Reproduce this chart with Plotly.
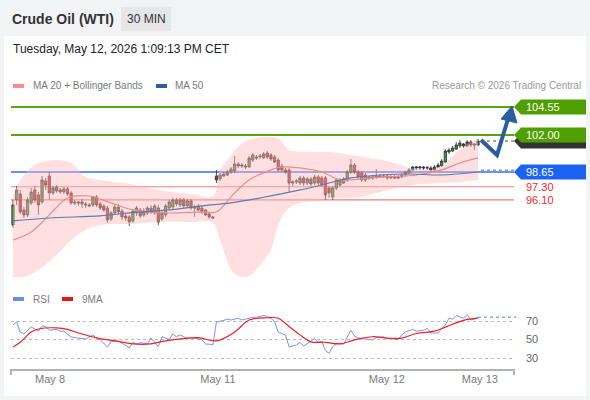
import plotly.graph_objects as go

W, H = 590, 400

# ---------------- data (30-min bars, weekend compressed) ----------------
opens = [93.83, 96.10, 96.65, 95.19, 94.74, 95.83, 97.01, 96.55, 95.92, 97.83,
         98.28, 96.74, 97.28, 97.01, 96.83, 97.10, 96.74, 95.92, 95.92, 95.92,
         95.74, 95.65, 95.65, 96.37, 95.74, 95.56, 95.37, 94.37, 94.92, 95.46,
         95.10, 94.65, 94.56, 94.19, 94.92, 95.19, 94.74, 94.92, 95.37, 94.92,
         95.37, 94.37, 94.74, 95.37, 95.46, 96.10, 95.65, 96.10, 95.56, 96.01,
         95.46, 95.56, 95.37, 95.19, 94.83, 94.56,
         98.28, 98.01, 98.28, 98.37, 98.64, 98.74, 99.37, 99.28, 99.19, 99.10,
         99.73, 100.01, 100.01, 99.92, 100.37, 100.19, 100.01, 99.73, 99.19, 98.83,
         98.83, 97.64, 97.74, 97.64, 98.10, 97.64, 98.01, 97.64, 98.19, 98.10,
         98.10, 97.19, 96.37, 97.19, 97.46, 97.64, 97.92, 98.64, 99.28, 98.64,
         98.55, 98.37, 98.10, 98.10, 98.19, 98.28, 98.19, 98.28, 98.10, 98.19,
         98.19, 98.19, 98.37, 98.55, 98.83, 99.01, 99.01, 99.10, 99.01, 99.01,
         98.83, 99.10, 99.19, 99.55, 100.46, 100.55, 100.73, 101.01, 101.19, 101.01,
         101.37, 101.19, 101.10]
highs = [96.10, 97.37, 97.01, 95.46, 96.37, 97.19, 97.37, 96.83, 98.28, 98.10,
         98.64, 97.37, 97.46, 97.19, 97.28, 97.28, 96.92, 96.10, 96.01, 96.19,
         95.92, 95.83, 96.46, 96.55, 95.92, 95.74, 95.56, 95.10, 95.65, 95.74,
         95.28, 94.83, 94.74, 95.28, 95.56, 95.37, 95.37, 95.56, 95.65, 95.74,
         95.65, 95.10, 95.74, 96.10, 96.28, 96.28, 96.28, 96.28, 96.19, 96.19,
         95.65, 95.74, 95.56, 95.28, 95.01, 94.65,
         98.83, 98.55, 98.64, 98.83, 99.10, 100.10, 99.55, 99.46, 99.37, 100.10,
         100.37, 100.19, 100.28, 100.46, 100.55, 100.37, 100.19, 99.92, 99.37, 99.01,
         99.01, 97.92, 98.01, 98.28, 98.28, 98.19, 98.19, 98.37, 98.37, 98.28,
         98.28, 97.37, 97.37, 98.10, 98.10, 98.19, 98.83, 99.83, 99.46, 98.83,
         98.74, 98.55, 98.28, 98.37, 98.92, 98.46, 98.46, 98.46, 98.37, 98.37,
         98.37, 98.55, 98.74, 99.01, 99.19, 99.19, 99.19, 99.19, 99.19, 99.19,
         99.28, 99.46, 99.83, 100.73, 100.82, 101.01, 101.37, 101.55, 101.28, 101.55,
         101.55, 101.28, 101.64]
lows = [93.56, 95.65, 94.83, 94.46, 94.56, 95.65, 95.83, 94.74, 95.74, 97.01,
        96.10, 96.55, 96.74, 96.65, 96.65, 96.46, 95.65, 95.65, 95.56, 95.37,
        95.37, 95.46, 95.46, 95.46, 95.19, 95.01, 94.01, 94.19, 94.74, 94.83,
        94.28, 94.19, 93.74, 94.01, 94.65, 94.46, 94.56, 94.74, 94.83, 94.74,
        93.83, 94.19, 94.56, 95.19, 95.28, 95.56, 95.46, 95.37, 95.37, 95.19,
        94.56, 95.01, 94.83, 94.65, 94.37, 94.37,
        97.64, 97.83, 98.19, 98.28, 98.46, 98.55, 99.01, 99.01, 98.92, 99.01,
        99.55, 99.73, 99.83, 99.83, 99.83, 99.64, 99.46, 98.64, 98.64, 98.46,
        96.83, 97.37, 97.55, 97.46, 97.37, 97.46, 97.37, 97.46, 97.46, 97.28,
        96.10, 96.28, 96.10, 97.01, 97.28, 97.55, 97.74, 98.46, 98.46, 98.01,
        97.74, 97.74, 97.92, 97.92, 98.01, 98.10, 98.10, 97.92, 98.01, 98.01,
        98.01, 98.10, 98.19, 98.46, 98.74, 98.83, 98.83, 98.83, 98.83, 98.64,
        98.74, 99.01, 99.10, 99.46, 100.28, 100.46, 100.64, 100.82, 100.82, 100.92,
        100.92, 100.64, 101.01]
closes = [95.65, 97.01, 95.01, 94.74, 96.10, 96.83, 96.10, 95.65, 97.92, 97.46,
          96.74, 97.19, 96.92, 96.83, 97.10, 96.65, 95.83, 95.83, 95.83, 95.74,
          95.65, 95.56, 96.37, 95.65, 95.37, 95.19, 94.28, 94.92, 95.46, 95.01,
          94.56, 94.46, 94.10, 95.10, 95.37, 94.65, 95.10, 95.37, 95.01, 95.56,
          94.10, 94.92, 95.56, 95.92, 96.10, 95.74, 96.10, 95.56, 96.01, 95.37,
          95.37, 95.19, 95.01, 94.74, 94.56, 94.46,
          97.92, 98.37, 98.46, 98.64, 98.92, 99.37, 99.19, 99.19, 99.10, 99.92,
          100.19, 99.92, 100.10, 100.28, 100.01, 99.83, 99.55, 98.83, 98.83, 98.64,
          97.64, 97.74, 97.83, 98.10, 97.64, 98.01, 97.55, 98.19, 97.64, 97.46,
          96.55, 96.74, 97.19, 97.92, 97.92, 98.01, 98.64, 99.28, 98.64, 98.19,
          97.92, 97.92, 98.19, 98.19, 98.28, 98.19, 98.28, 98.10, 98.19, 98.10,
          98.10, 98.37, 98.64, 98.83, 99.10, 99.10, 99.10, 99.01, 99.03, 98.83,
          99.10, 99.28, 99.64, 100.55, 100.64, 100.82, 101.10, 101.28, 101.01, 101.37,
          101.10, 101.10, 101.46]
bars = list(range(len(closes)))

# Bollinger bands / moving averages (read at sampled bars)
bb_idx = [0, 3, 7, 12, 16, 20, 24, 32, 40, 49, 55, 57, 60, 61, 63, 65, 68, 69, 71, 73,
          76, 79, 82, 85, 87, 90, 93, 96, 98, 101, 104, 107, 109, 112, 115, 118, 119, 123, 128]
bb_upper = [96.55, 98.37, 99.46, 99.73, 99.46, 98.19, 97.92, 97.55, 97.01, 96.65, 96.46,
            98.83, 100.10, 100.64, 101.20, 101.55, 101.78, 101.82, 101.80, 101.73,
            100.64, 100.50, 100.46, 100.46, 100.46, 100.35, 100.19, 100.05, 99.92, 99.75,
            99.55, 99.25, 99.01, 98.90, 98.83, 99.20, 99.46, 100.64, 101.73]
bb_lower = [89.10, 89.10, 89.73, 91.10, 92.46, 93.37, 93.83, 93.92, 94.10, 94.10, 94.01,
            92.46, 89.73, 89.40, 89.10, 89.19, 90.19, 90.60, 91.55, 93.83,
            95.37, 95.83, 95.95, 96.10, 96.20, 96.28, 96.32, 96.37, 96.55, 96.82,
            97.05, 97.28, 97.40, 97.55, 97.60, 97.64, 97.66, 97.73, 97.92]
ma20_idx = [0, 5, 10, 15, 21, 27, 33, 42, 52, 56, 61, 65, 71, 74, 79, 85, 90, 93, 102, 111, 118, 123, 128]
ma20 = [92.46, 93.19, 94.74, 96.28, 96.46, 95.83, 95.19, 94.92, 95.01, 95.01, 96.74, 97.92,
        98.83, 99.10, 99.01, 98.64, 97.92, 97.92, 98.19, 98.37, 98.83, 99.46, 99.92]
ma50_idx = [0, 10, 24, 32, 43, 52, 60, 68, 79, 87, 93, 101, 109, 118, 128]
ma50 = [94.19, 94.46, 94.65, 94.92, 95.19, 95.56, 95.83, 96.28, 97.01, 97.64, 98.10,
        98.37, 98.46, 98.37, 98.64]

# RSI panel
rsi_idx = [0, 1, 2, 3, 5, 7, 8, 9, 10, 12, 13, 14, 16, 17, 18, 20, 22, 23, 24, 26, 27, 29,
           30, 32, 33, 34, 35, 37, 38, 39, 40, 41, 43, 44, 45, 46, 48, 49, 51, 52, 53, 54,
           55, 56, 58, 59, 60, 62, 63, 64, 66, 67, 69, 71, 72, 73, 75, 76, 78, 79, 80, 82,
           83, 84, 85, 86, 87, 88, 89, 91, 92, 93, 94, 95, 97, 99, 100, 102, 103, 104, 106,
           107, 108, 110, 111, 113, 114, 115, 117, 118, 119, 120, 121, 122, 124, 125, 126,
           127, 128]
rsi = [65.7, 69, 58, 56, 63.5, 59, 64.6, 64, 60, 61, 59, 59, 52.7, 52, 52, 50.5, 55, 51,
       49.6, 42, 48, 48, 46, 41, 47, 45, 46.5, 45.5, 51.6, 46.5, 42.5, 53, 50, 56, 53, 55,
       51, 52, 51, 50, 45, 45, 44, 69, 70.6, 72, 71, 73, 71, 72, 74, 74, 76, 73, 69, 58,
       55, 42, 44, 47, 43, 48, 51.5, 47, 48, 38, 35, 42, 46, 45, 53, 60, 54, 51.5, 50.5,
       49.6, 52, 53, 51, 51, 49.6, 55, 58, 61, 59, 60, 62, 57, 57, 62, 65.6, 73, 72, 76,
       73, 77, 71, 72, 74]
ma9_idx = [0, 2, 5, 7, 12, 15, 18, 24, 29, 33, 38, 42, 47, 51, 56, 61, 65, 70, 73, 76, 79,
           82, 86, 90, 94, 99, 103, 107, 111, 116, 119, 124, 128]
rsi_ma9 = [42, 47, 58, 61.4, 62.6, 61, 57, 51, 48, 45.3, 45.3, 48.6, 51, 52, 48.6, 58, 71,
           73.5, 73, 64, 55, 47.5, 47, 45.3, 49.6, 53, 51.5, 51.5, 56.5, 59, 63.4, 70.6, 73]

tick_pos = [10.2, 56.4, 102.9, 128.5]
tick_text = ["May 8", "May 11", "May 12", "May 13"]

res_levels = [104.55, 102.00]
pivot_level = 98.65
sup_levels = [97.30, 96.10]
last_price = closes[-1]
ma50_proj = 98.80
rsi_last = 74

# ---------------- layout helpers (pixel -> paper) ----------------
def px(x):
    return x / W

def py(y):
    return 1 - y / H

FONT = "Liberation Sans, Arial, sans-serif"
X_LEFT, X_RIGHT = 11, 514

fig = go.Figure()

# Bollinger band
fig.add_trace(go.Scatter(x=bb_idx, y=bb_upper, mode="lines", line=dict(width=0, shape="spline", smoothing=1.0),
                         hoverinfo="skip", showlegend=False, yaxis="y"))
fig.add_trace(go.Scatter(x=bb_idx, y=bb_lower, mode="lines", line=dict(width=0, shape="spline", smoothing=1.0),
                         fill="tonexty", fillcolor="rgba(255,185,185,0.45)", hoverinfo="skip",
                         showlegend=False, yaxis="y"))
fig.add_trace(go.Scatter(x=ma20_idx, y=ma20, mode="lines", line=dict(color="#f28a8a", width=1.2, shape="spline"),
                         hoverinfo="skip", showlegend=False, yaxis="y"))
fig.add_trace(go.Scatter(x=ma50_idx, y=ma50, mode="lines", line=dict(color="#5b7bb5", width=1.2, shape="spline"),
                         hoverinfo="skip", showlegend=False, yaxis="y"))

fig.add_trace(go.Candlestick(
    x=bars, open=opens, high=highs, low=lows, close=closes,
    increasing=dict(line=dict(color="#2f2f2f", width=0.8), fillcolor="#2f9e3a"),
    decreasing=dict(line=dict(color="#2f2f2f", width=0.8), fillcolor="#e3202c"),
    whiskerwidth=0, hoverinfo="skip", showlegend=False, yaxis="y"))

fig.add_trace(go.Scatter(x=rsi_idx, y=rsi, mode="lines", line=dict(color="#7893ee", width=1),
                         hoverinfo="skip", showlegend=False, yaxis="y2"))
fig.add_trace(go.Scatter(x=ma9_idx, y=rsi_ma9, mode="lines", line=dict(color="#f02020", width=1.2, shape="spline"),
                         hoverinfo="skip", showlegend=False, yaxis="y2"))

shapes = []
# background panels
shapes.append(dict(type="rect", xref="paper", yref="paper", x0=px(4), x1=px(586), y0=py(396), y1=py(36),
                   fillcolor="white", line=dict(width=0), layer="below"))
shapes.append(dict(type="rect", xref="paper", yref="paper", x0=px(121), x1=px(171), y0=py(31), y1=py(7),
                   fillcolor="#e6e6e6", line=dict(width=0), layer="below"))

# level lines
for lv in res_levels:
    shapes.append(dict(type="line", xref="x domain", yref="y", x0=0, x1=1, y0=lv, y1=lv,
                       line=dict(color="#58a411", width=2), layer="below"))
shapes.append(dict(type="line", xref="x domain", yref="y", x0=0, x1=1, y0=pivot_level, y1=pivot_level,
                   line=dict(color="#2f70f0", width=1.5), layer="below"))
for lv in sup_levels:
    shapes.append(dict(type="line", xref="x domain", yref="y", x0=0, x1=1, y0=lv, y1=lv,
                       line=dict(color="#f27d7d", width=1.2), layer="below"))

# dotted projections
shapes.append(dict(type="line", xref="paper", yref="y", x0=px(481), x1=px(X_RIGHT), y0=last_price, y1=last_price,
                   line=dict(color="#888888", width=1.5, dash="dot")))
shapes.append(dict(type="line", xref="paper", yref="y", x0=px(481), x1=px(X_RIGHT), y0=ma50_proj, y1=ma50_proj,
                   line=dict(color="#8d9cbc", width=1.5, dash="dot")))
shapes.append(dict(type="line", xref="paper", yref="y2", x0=px(478), x1=px(516), y0=rsi_last, y1=rsi_last,
                   line=dict(color="#92a6ee", width=1.5, dash="dot")))

# price label tags
TAG = "M0,0 L7,7.5 L72,7.5 L72,-7.5 L7,-7.5 Z"
def tag(level, color):
    return dict(type="path", xref="paper", yref="y", xsizemode="pixel", ysizemode="pixel",
                xanchor=px(X_RIGHT), yanchor=level, path=TAG, fillcolor=color, line=dict(width=0))

shapes.append(tag(last_price, "#333333"))
shapes.append(tag(res_levels[0], "#4f9f00"))
shapes.append(tag(res_levels[1], "#4f9f00"))
shapes.append(tag(pivot_level, "#1c63f5"))

# projection arrow
def pth(points, close=False):
    s = "M" + " L".join(f"{px(a):.5f},{py(b):.5f}" for a, b in points)
    return s + (" Z" if close else "")

shapes.append(dict(type="path", xref="paper", yref="paper",
                   path=pth([(481, 140), (497, 155), (508, 119)]),
                   line=dict(color="#2c5e9e", width=4)))
shapes.append(dict(type="path", xref="paper", yref="paper",
                   path=pth([(512, 106), (501, 119), (517, 123)], close=True),
                   fillcolor="#2c5e9e", line=dict(color="#2c5e9e", width=1)))

# x axis base line with end ticks
shapes.append(dict(type="path", xref="paper", yref="paper",
                   path=pth([(X_LEFT, 375), (X_LEFT, 370), (X_RIGHT, 370), (X_RIGHT, 375)]),
                   line=dict(color="#b3b3b3", width=2)))

# legend swatches
shapes.append(dict(type="rect", xref="paper", yref="paper", x0=px(13), x1=px(24), y0=py(88), y1=py(84),
                   fillcolor="#ff8888", line=dict(width=0)))
shapes.append(dict(type="rect", xref="paper", yref="paper", x0=px(156), x1=px(167), y0=py(88), y1=py(84),
                   fillcolor="#2f5c9c", line=dict(width=0)))
shapes.append(dict(type="rect", xref="paper", yref="paper", x0=px(13), x1=px(24), y0=py(301), y1=py(297),
                   fillcolor="#6b8ee8", line=dict(width=0)))
shapes.append(dict(type="rect", xref="paper", yref="paper", x0=px(62), x1=px(73), y0=py(301), y1=py(297),
                   fillcolor="#ee1111", line=dict(width=0)))

ann = []
def text(x, y, t, size=11, color="#777", anchor="left", yref="paper"):
    ann.append(dict(x=px(x), y=(py(y) if yref == "paper" else y), xref="paper", yref=yref, text=t,
                    showarrow=False, xanchor=anchor, yanchor="middle", xshift=-2 if anchor == "left" else 0,
                    font=dict(family=FONT, size=size, color=color)))

text(12, 19, "<b>Crude Oil (WTI)</b>", 14, "#333333")
text(146, 19, "30 MIN", 12, "#333333", anchor="center")
text(13, 49, "Tuesday, May 12, 2026 1:09:13 PM CET", 12, "#222222")
text(33, 86, "MA 20 + Bollinger Bands", 10, "#7a7a7a")
text(175, 86, "MA 50", 10, "#7a7a7a")
text(583, 86, "Research © 2026 Trading Central", 10, "#9a9a9a", anchor="right")
text(33, 299, "RSI", 10, "#7a7a7a")
text(82, 299, "9MA", 10, "#7a7a7a")

for lv in res_levels + [pivot_level]:
    text(526, lv, f"{lv:.2f}", 11, "white", yref="y")
for lv in sup_levels:
    text(526, lv, f"{lv:.2f}", 11, "#ff1f1f", yref="y")

fig.update_layout(
    width=W, height=H, autosize=False,
    margin=dict(l=0, r=0, t=0, b=0),
    paper_bgcolor="#f2f3f4", plot_bgcolor="rgba(0,0,0,0)",
    showlegend=False, boxgap=0.08, hovermode=False,
    xaxis=dict(domain=[px(X_LEFT), px(X_RIGHT)], range=[-0.55, 137.9], anchor="y2",
               showgrid=False, zeroline=False, showline=False, ticks="",
               tickvals=tick_pos, ticktext=tick_text, rangeslider=dict(visible=False),
               tickfont=dict(family=FONT, size=11, color="#7a7a7a"), fixedrange=True),
    yaxis=dict(domain=[py(282), py(88)], range=[88.64, 106.28], anchor="x",
               showgrid=False, zeroline=False, showticklabels=False, ticks="", fixedrange=True),
    yaxis2=dict(domain=[py(371), py(300)], range=[15.95, 92.7], anchor="x", side="right",
                tickvals=[30, 50, 70], showgrid=True, gridcolor="#bdbdbd", griddash="dot", gridwidth=1,
                zeroline=False, ticks="", ticklabelstandoff=11,
                tickfont=dict(family=FONT, size=11, color="#666666"), fixedrange=True),
    shapes=shapes, annotations=ann,
)

fig.write_html("out.html", config=dict(displayModeBar=False, staticPlot=True),
               post_script="document.body.style.margin='0';document.body.style.overflow='hidden';")
